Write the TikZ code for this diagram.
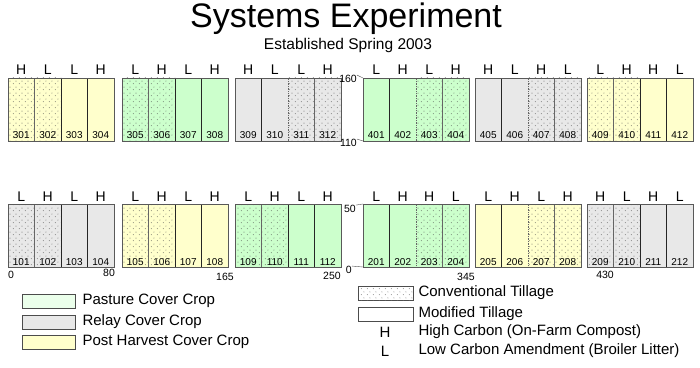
\documentclass[tikz,border=0pt]{standalone}
\usepackage{fontspec}
\setmainfont{Liberation Sans}
\usetikzlibrary{patterns.meta,positioning}

\definecolor{pasture}{HTML}{CCFFCC}
\definecolor{relay}{HTML}{E8E8E8}
\definecolor{postharv}{HTML}{FFFFCC}
\definecolor{pastlegend}{HTML}{EBFFEB}

\tikzdeclarepattern{
  name=plotdots, type=uncolored,
  bounding box={(0pt,0pt) and (6pt,6pt)},
  tile size={(6pt,6pt)},
  code={
    \fill (1.5pt,1.5pt) circle (0.5pt);
    \fill (4.5pt,4.5pt) circle (0.5pt);
  }
}

\begin{document}
\begin{tikzpicture}[
  x=1pt, y=1pt,
  plot/.style={draw=black!85, line width=0.7pt, inner sep=0pt, outer sep=0pt,
    minimum width=26.5pt, minimum height=63pt, anchor=north west},
  conv/.style={densely dotted, draw=black!60,
    postaction={pattern=plotdots, pattern color=black!70}},
  modt/.style={},
  blockframe/.style={draw=black!65, line width=0.8pt},
  carb/.style={font=\fontsize{14}{14}\selectfont, anchor=base, inner sep=0pt},
  pnum/.style={font=\fontsize{10}{10}\selectfont, anchor=base, inner sep=0pt},
  axlab/.style={font=\fontsize{10.5}{10.5}\selectfont, inner sep=0pt},
  legbox/.style={draw=black!70, line width=0.7pt, minimum width=53pt,
    minimum height=14pt, inner sep=0pt},
  legtext/.style={font=\fontsize{15}{15}\selectfont, anchor=west, inner sep=0pt}
]
\useasboundingbox (0,0) rectangle (700,367);

% title
\node[font=\fontsize{34}{34}\selectfont, anchor=base] (title) at (346,339) {Systems Experiment};
\node[font=\fontsize{15.5}{16}\selectfont, anchor=base] (sub) at (348,317) {Established Spring 2003};

% blocks of plots: x / top / cover crop / first plot / tillage left pair / right pair / carbon
\foreach \bx/\by/\col/\first/\lt/\rt/\ca/\cb/\cc/\cd in {
  8/289/postharv/301/conv/modt/H/L/L/H,
  122/289/pasture/305/conv/modt/L/H/L/H,
  235/289/relay/309/modt/conv/H/L/L/H,
  363/289/pasture/401/modt/conv/L/H/L/H,
  475/289/relay/405/modt/conv/H/L/H/L,
  587/289/postharv/409/conv/modt/L/H/H/L,
  8/163/relay/101/conv/modt/L/H/L/H,
  122/163/postharv/105/conv/modt/L/H/L/H,
  235/163/pasture/109/conv/modt/L/H/L/H,
  363/163/pasture/201/modt/conv/L/H/H/L,
  475/163/postharv/205/modt/conv/L/H/L/H,
  587/163/relay/209/conv/modt/H/L/H/L}
{
  \foreach \i/\till/\c in {0/\lt/\ca, 1/\lt/\cb, 2/\rt/\cc, 3/\rt/\cd} {
    \pgfmathtruncatemacro\n{\first+\i}
    \node[plot, fill=\col, \till] (p\n) at (\bx+26.5*\i, \by) {};
    \node[pnum] at ([yshift=2pt]p\n.south) {\n};
    \node[carb] at ([yshift=3pt]p\n.north) {\c};
  }
  \pgfmathtruncatemacro\last{\first+3}
  \draw[blockframe] (p\first.north west) rectangle (p\last.south east);
}

% axis marks
\node[axlab, anchor=east] (y160) at (357,288) {160};
\node[axlab, anchor=east] (y110) at (357,224) {110};
\node[axlab, anchor=east] (y50) at (356,158) {50};
\node[axlab, anchor=east] (y0) at (352,97) {0};
\draw[black!70] (y160.north east) -- (p401.north west);
\draw[black!70] (y110.north east) -- (p401.south west);
\draw[black!70] (y50.north east) -- (p201.north west);
\draw[black!70] (y0.north east) -- (p201.south west);

\node[axlab] (x0) at (11,92) {0};
\node[axlab] (x80) at (109,94) {80};
\node[axlab] (x165) at (225,90) {165};
\node[axlab] (x250) at (332,91) {250};
\node[axlab] (x345) at (466,90) {345};
\node[axlab] (x430) at (605,92) {430};

% legend: cover crops
\node[legbox, fill=pastlegend] (lpast) at (48.5,66) {};
\node[legtext, right=7pt of lpast] (tpast) {Pasture Cover Crop};
\node[legbox, fill=relay] (lrel) at (48.5,45) {};
\node[legtext, right=7pt of lrel] (trel) {Relay Cover Crop};
\node[legbox, fill=postharv] (lpost) at (48.5,25) {};
\node[legtext, right=7pt of lpost] (tpost) {Post Harvest Cover Crop};

% legend: tillage and carbon
\node[legbox, minimum width=55pt, postaction={pattern=plotdots, pattern color=black!60}] (lconv) at (385.5,74) {};
\node[legtext, right=5pt of lconv] (tconv) {Conventional Tillage};
\node[legbox, minimum width=55pt] (lmod) at (385.5,53) {};
\node[legtext, right=5pt of lmod] (tmod) {Modified Tillage};
\node[legtext, anchor=center] (lh) at (385,35) {H};
\node[legtext] (th) at (tmod.west |- lh) {High Carbon (On-Farm Compost)};
\node[legtext, anchor=center] (ll) at (385,16) {L};
\node[legtext] (tl) at (tmod.west |- ll) {Low Carbon Amendment (Broiler Litter)};
\end{tikzpicture}
\end{document}
